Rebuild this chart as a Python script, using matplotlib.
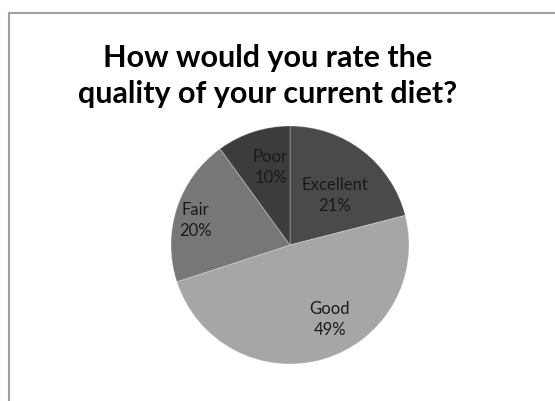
import matplotlib
matplotlib.use("Agg")
import matplotlib.pyplot as plt
import numpy as np
from matplotlib.lines import Line2D

categories = ["Excellent", "Good", "Fair", "Poor"]
values = [21, 49, 20, 10]
pct_labels = ["21%", "49%", "20%", "10%"]
title = "How would you rate the\nquality of your current diet?"

colors = ["#4a4a4a", "#a6a6a6", "#777777", "#3c3c3c"]
label_r = [0.57, 0.70, 0.82, 0.68]
label_dang = [-3.6, 12.2, 3.0, -4.0]

W, H = 555, 402
fig = plt.figure(figsize=(W / 100, H / 100), dpi=100)
fig.patch.set_facecolor("white")

cx, cy, R = 290, 402 - 246, 119
ax = fig.add_axes([(cx - R) / W, (cy - R) / H, 2 * R / W, 2 * R / H])
wedges, _ = ax.pie(values, colors=colors, startangle=90, counterclock=False,
                   radius=1.0,
                   wedgeprops=dict(edgecolor=(1, 1, 1, 0.25), linewidth=0.8))
ax.set_xlim(-1, 1)
ax.set_ylim(-1, 1)
ax.set_aspect("equal")
ax.axis("off")

for w, cat, pct, r, da in zip(wedges, categories, pct_labels, label_r, label_dang):
    ang = np.deg2rad((w.theta1 + w.theta2) / 2 + da)
    x, y = r * np.cos(ang), r * np.sin(ang)
    ax.text(x, y, f"{cat}\n{pct}", ha="center", va="center", fontsize=12,
            family="Lato", color="#1a1a1a", linespacing=1.4)

fig.text(268 / W, 1 - 76 / H, title, ha="center", va="center", fontsize=22,
         fontweight="bold", family="Lato", color="black", linespacing=1.32)

border = "#a0a0a0"
fig.add_artist(Line2D([8.5 / W, 1], [1 - 13.5 / H, 1 - 13.5 / H], color=border,
                      lw=1.5, transform=fig.transFigure))
fig.add_artist(Line2D([8.5 / W, 8.5 / W], [0, 1 - 13.5 / H], color=border,
                      lw=1.5, transform=fig.transFigure))

fig.savefig("out.png", dpi=100)
